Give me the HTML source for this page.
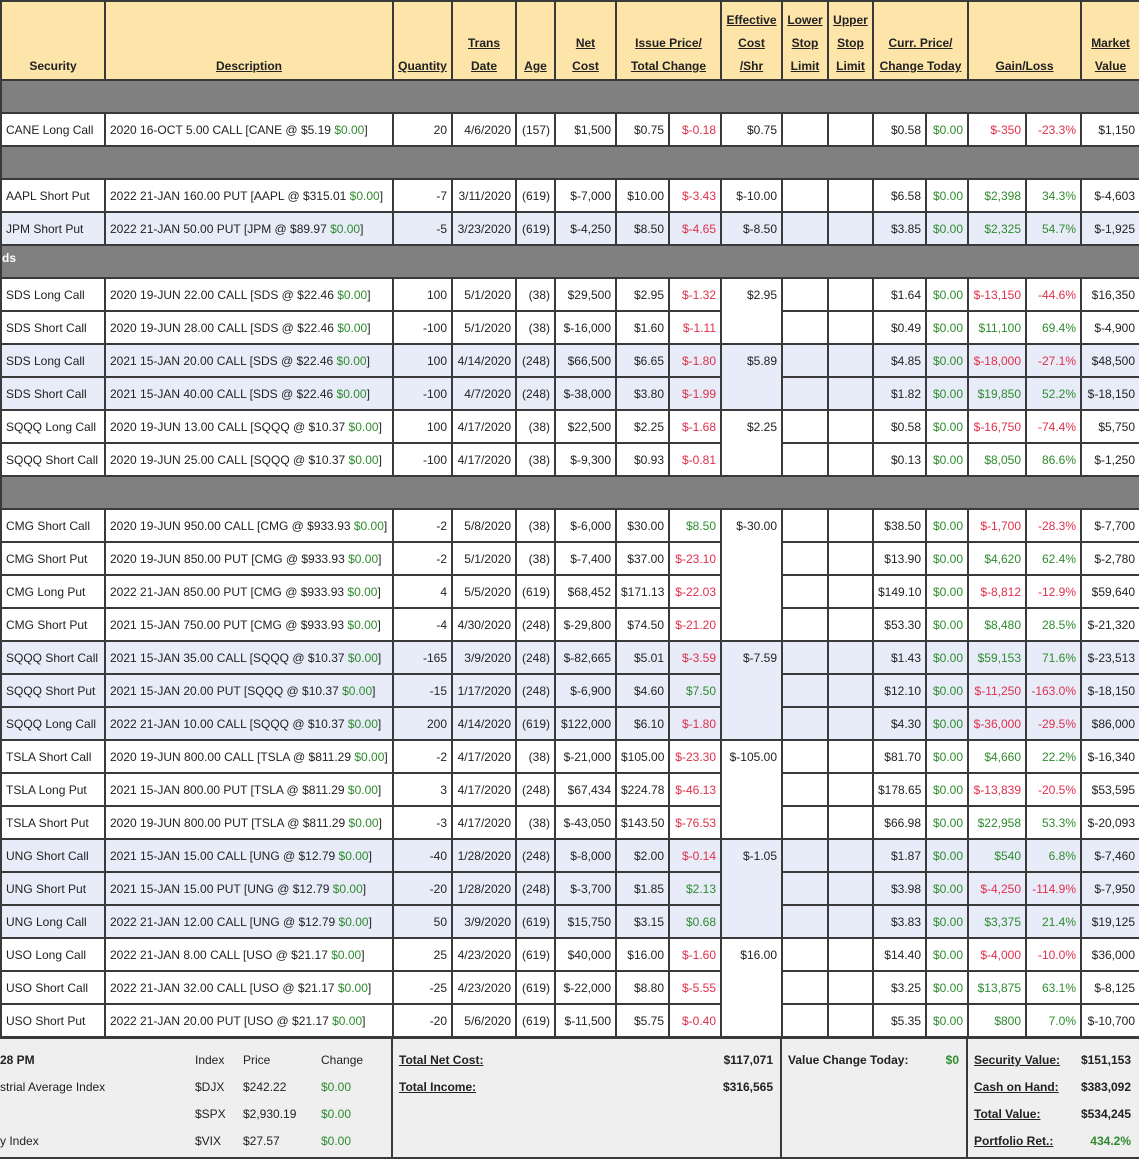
<!DOCTYPE html>
<html><head><meta charset="utf-8"><style>
body{margin:0;background:#fff;font-family:"Liberation Sans",Arial,sans-serif;font-size:12px;color:#222;}
table{border-collapse:collapse;table-layout:fixed;width:1139px;position:absolute;left:0;top:0;}
td{border:2px solid #3a3a3a;padding:0 4px;height:31px;white-space:nowrap;overflow:hidden;text-align:right;vertical-align:middle;}
tr.h td{background:#fde4a9;font-weight:bold;text-align:center;vertical-align:bottom;line-height:23px;height:76px;padding:0 2px 1px;}
tr.h td u{text-decoration:underline;}
tr.s td{background:#808080;height:31px;}
tr.b td{background:#e8ecf9;}
td.l{text-align:left;}
td.e{vertical-align:top;padding-top:9px;background:#fff;}
td.eb{vertical-align:top;padding-top:9px;background:#e8ecf9;}
.r{color:#e0304a;}.g{color:#2e8b2e;}
#bot{position:absolute;left:0;top:1037px;width:1139px;height:118px;background:#efefef;border-top:2px solid #3a3a3a;border-bottom:2px solid #3a3a3a;}
#bot div{position:absolute;white-space:nowrap;}
.vl{width:2px;height:118px;background:#3a3a3a;top:0;}
.bb{font-weight:bold;}
</style></head><body>
<table>
<colgroup><col style="width:104px"><col style="width:288px"><col style="width:59px"><col style="width:64px"><col style="width:39px"><col style="width:61px"><col style="width:53px"><col style="width:52px"><col style="width:61px"><col style="width:46px"><col style="width:45px"><col style="width:53px"><col style="width:42px"><col style="width:58px"><col style="width:55px"><col style="width:59px"></colgroup>
<tr class="h"><td>Security</td><td><u>Description</u></td><td><u>Quantity</u></td><td><u>Trans<br>Date</u></td><td><u>Age</u></td><td><u>Net<br>Cost</u></td><td colspan="2"><u>Issue Price/<br>Total Change</u></td><td><u>Effective<br>Cost<br>/Shr</u></td><td><u>Lower<br>Stop<br>Limit</u></td><td><u>Upper<br>Stop<br>Limit</u></td><td colspan="2"><u>Curr. Price/<br>Change Today</u></td><td colspan="2"><u>Gain/Loss</u></td><td><u>Market<br>Value</u></td></tr>
<tr class="s"><td colspan="16"></td></tr>
<tr><td class="l">CANE Long Call</td><td class="l">2020 16-OCT 5.00 CALL [CANE @ $5.19 <span class="g">$0.00</span>]</td><td>20</td><td>4/6/2020</td><td>(157)</td><td>$1,500</td><td>$0.75</td><td class="r">$-0.18</td><td>$0.75</td><td></td><td></td><td>$0.58</td><td class="g">$0.00</td><td class="r">$-350</td><td class="r">-23.3%</td><td>$1,150</td></tr>
<tr class="s"><td colspan="16"></td></tr>
<tr><td class="l">AAPL Short Put</td><td class="l">2022 21-JAN 160.00 PUT [AAPL @ $315.01 <span class="g">$0.00</span>]</td><td>-7</td><td>3/11/2020</td><td>(619)</td><td>$-7,000</td><td>$10.00</td><td class="r">$-3.43</td><td>$-10.00</td><td></td><td></td><td>$6.58</td><td class="g">$0.00</td><td class="g">$2,398</td><td class="g">34.3%</td><td>$-4,603</td></tr>
<tr class="b"><td class="l">JPM Short Put</td><td class="l">2022 21-JAN 50.00 PUT [JPM @ $89.97 <span class="g">$0.00</span>]</td><td>-5</td><td>3/23/2020</td><td>(619)</td><td>$-4,250</td><td>$8.50</td><td class="r">$-4.65</td><td>$-8.50</td><td></td><td></td><td>$3.85</td><td class="g">$0.00</td><td class="g">$2,325</td><td class="g">54.7%</td><td>$-1,925</td></tr>
<tr class="s"><td colspan="16" class="l" style="vertical-align:top;padding:0;line-height:14px;color:#fff;font-weight:bold;"><div style="height:31px;padding-top:5px;box-sizing:border-box">ds</div></td></tr>
<tr><td class="l">SDS Long Call</td><td class="l">2020 19-JUN 22.00 CALL [SDS @ $22.46 <span class="g">$0.00</span>]</td><td>100</td><td>5/1/2020</td><td>(38)</td><td>$29,500</td><td>$2.95</td><td class="r">$-1.32</td><td rowspan="2" class="e">$2.95</td><td></td><td></td><td>$1.64</td><td class="g">$0.00</td><td class="r">$-13,150</td><td class="r">-44.6%</td><td>$16,350</td></tr>
<tr><td class="l">SDS Short Call</td><td class="l">2020 19-JUN 28.00 CALL [SDS @ $22.46 <span class="g">$0.00</span>]</td><td>-100</td><td>5/1/2020</td><td>(38)</td><td>$-16,000</td><td>$1.60</td><td class="r">$-1.11</td><td></td><td></td><td>$0.49</td><td class="g">$0.00</td><td class="g">$11,100</td><td class="g">69.4%</td><td>$-4,900</td></tr>
<tr class="b"><td class="l">SDS Long Call</td><td class="l">2021 15-JAN 20.00 CALL [SDS @ $22.46 <span class="g">$0.00</span>]</td><td>100</td><td>4/14/2020</td><td>(248)</td><td>$66,500</td><td>$6.65</td><td class="r">$-1.80</td><td rowspan="2" class="eb">$5.89</td><td></td><td></td><td>$4.85</td><td class="g">$0.00</td><td class="r">$-18,000</td><td class="r">-27.1%</td><td>$48,500</td></tr>
<tr class="b"><td class="l">SDS Short Call</td><td class="l">2021 15-JAN 40.00 CALL [SDS @ $22.46 <span class="g">$0.00</span>]</td><td>-100</td><td>4/7/2020</td><td>(248)</td><td>$-38,000</td><td>$3.80</td><td class="r">$-1.99</td><td></td><td></td><td>$1.82</td><td class="g">$0.00</td><td class="g">$19,850</td><td class="g">52.2%</td><td>$-18,150</td></tr>
<tr><td class="l">SQQQ Long Call</td><td class="l">2020 19-JUN 13.00 CALL [SQQQ @ $10.37 <span class="g">$0.00</span>]</td><td>100</td><td>4/17/2020</td><td>(38)</td><td>$22,500</td><td>$2.25</td><td class="r">$-1.68</td><td rowspan="2" class="e">$2.25</td><td></td><td></td><td>$0.58</td><td class="g">$0.00</td><td class="r">$-16,750</td><td class="r">-74.4%</td><td>$5,750</td></tr>
<tr><td class="l">SQQQ Short Call</td><td class="l">2020 19-JUN 25.00 CALL [SQQQ @ $10.37 <span class="g">$0.00</span>]</td><td>-100</td><td>4/17/2020</td><td>(38)</td><td>$-9,300</td><td>$0.93</td><td class="r">$-0.81</td><td></td><td></td><td>$0.13</td><td class="g">$0.00</td><td class="g">$8,050</td><td class="g">86.6%</td><td>$-1,250</td></tr>
<tr class="s"><td colspan="16"></td></tr>
<tr><td class="l">CMG Short Call</td><td class="l">2020 19-JUN 950.00 CALL [CMG @ $933.93 <span class="g">$0.00</span>]</td><td>-2</td><td>5/8/2020</td><td>(38)</td><td>$-6,000</td><td>$30.00</td><td class="g">$8.50</td><td rowspan="4" class="e">$-30.00</td><td></td><td></td><td>$38.50</td><td class="g">$0.00</td><td class="r">$-1,700</td><td class="r">-28.3%</td><td>$-7,700</td></tr>
<tr><td class="l">CMG Short Put</td><td class="l">2020 19-JUN 850.00 PUT [CMG @ $933.93 <span class="g">$0.00</span>]</td><td>-2</td><td>5/1/2020</td><td>(38)</td><td>$-7,400</td><td>$37.00</td><td class="r">$-23.10</td><td></td><td></td><td>$13.90</td><td class="g">$0.00</td><td class="g">$4,620</td><td class="g">62.4%</td><td>$-2,780</td></tr>
<tr><td class="l">CMG Long Put</td><td class="l">2022 21-JAN 850.00 PUT [CMG @ $933.93 <span class="g">$0.00</span>]</td><td>4</td><td>5/5/2020</td><td>(619)</td><td>$68,452</td><td>$171.13</td><td class="r">$-22.03</td><td></td><td></td><td>$149.10</td><td class="g">$0.00</td><td class="r">$-8,812</td><td class="r">-12.9%</td><td>$59,640</td></tr>
<tr><td class="l">CMG Short Put</td><td class="l">2021 15-JAN 750.00 PUT [CMG @ $933.93 <span class="g">$0.00</span>]</td><td>-4</td><td>4/30/2020</td><td>(248)</td><td>$-29,800</td><td>$74.50</td><td class="r">$-21.20</td><td></td><td></td><td>$53.30</td><td class="g">$0.00</td><td class="g">$8,480</td><td class="g">28.5%</td><td>$-21,320</td></tr>
<tr class="b"><td class="l">SQQQ Short Call</td><td class="l">2021 15-JAN 35.00 CALL [SQQQ @ $10.37 <span class="g">$0.00</span>]</td><td>-165</td><td>3/9/2020</td><td>(248)</td><td>$-82,665</td><td>$5.01</td><td class="r">$-3.59</td><td rowspan="3" class="eb">$-7.59</td><td></td><td></td><td>$1.43</td><td class="g">$0.00</td><td class="g">$59,153</td><td class="g">71.6%</td><td>$-23,513</td></tr>
<tr class="b"><td class="l">SQQQ Short Put</td><td class="l">2021 15-JAN 20.00 PUT [SQQQ @ $10.37 <span class="g">$0.00</span>]</td><td>-15</td><td>1/17/2020</td><td>(248)</td><td>$-6,900</td><td>$4.60</td><td class="g">$7.50</td><td></td><td></td><td>$12.10</td><td class="g">$0.00</td><td class="r">$-11,250</td><td class="r">-163.0%</td><td>$-18,150</td></tr>
<tr class="b"><td class="l">SQQQ Long Call</td><td class="l">2022 21-JAN 10.00 CALL [SQQQ @ $10.37 <span class="g">$0.00</span>]</td><td>200</td><td>4/14/2020</td><td>(619)</td><td>$122,000</td><td>$6.10</td><td class="r">$-1.80</td><td></td><td></td><td>$4.30</td><td class="g">$0.00</td><td class="r">$-36,000</td><td class="r">-29.5%</td><td>$86,000</td></tr>
<tr><td class="l">TSLA Short Call</td><td class="l">2020 19-JUN 800.00 CALL [TSLA @ $811.29 <span class="g">$0.00</span>]</td><td>-2</td><td>4/17/2020</td><td>(38)</td><td>$-21,000</td><td>$105.00</td><td class="r">$-23.30</td><td rowspan="3" class="e">$-105.00</td><td></td><td></td><td>$81.70</td><td class="g">$0.00</td><td class="g">$4,660</td><td class="g">22.2%</td><td>$-16,340</td></tr>
<tr><td class="l">TSLA Long Put</td><td class="l">2021 15-JAN 800.00 PUT [TSLA @ $811.29 <span class="g">$0.00</span>]</td><td>3</td><td>4/17/2020</td><td>(248)</td><td>$67,434</td><td>$224.78</td><td class="r">$-46.13</td><td></td><td></td><td>$178.65</td><td class="g">$0.00</td><td class="r">$-13,839</td><td class="r">-20.5%</td><td>$53,595</td></tr>
<tr><td class="l">TSLA Short Put</td><td class="l">2020 19-JUN 800.00 PUT [TSLA @ $811.29 <span class="g">$0.00</span>]</td><td>-3</td><td>4/17/2020</td><td>(38)</td><td>$-43,050</td><td>$143.50</td><td class="r">$-76.53</td><td></td><td></td><td>$66.98</td><td class="g">$0.00</td><td class="g">$22,958</td><td class="g">53.3%</td><td>$-20,093</td></tr>
<tr class="b"><td class="l">UNG Short Call</td><td class="l">2021 15-JAN 15.00 CALL [UNG @ $12.79 <span class="g">$0.00</span>]</td><td>-40</td><td>1/28/2020</td><td>(248)</td><td>$-8,000</td><td>$2.00</td><td class="r">$-0.14</td><td rowspan="3" class="eb">$-1.05</td><td></td><td></td><td>$1.87</td><td class="g">$0.00</td><td class="g">$540</td><td class="g">6.8%</td><td>$-7,460</td></tr>
<tr class="b"><td class="l">UNG Short Put</td><td class="l">2021 15-JAN 15.00 PUT [UNG @ $12.79 <span class="g">$0.00</span>]</td><td>-20</td><td>1/28/2020</td><td>(248)</td><td>$-3,700</td><td>$1.85</td><td class="g">$2.13</td><td></td><td></td><td>$3.98</td><td class="g">$0.00</td><td class="r">$-4,250</td><td class="r">-114.9%</td><td>$-7,950</td></tr>
<tr class="b"><td class="l">UNG Long Call</td><td class="l">2022 21-JAN 12.00 CALL [UNG @ $12.79 <span class="g">$0.00</span>]</td><td>50</td><td>3/9/2020</td><td>(619)</td><td>$15,750</td><td>$3.15</td><td class="g">$0.68</td><td></td><td></td><td>$3.83</td><td class="g">$0.00</td><td class="g">$3,375</td><td class="g">21.4%</td><td>$19,125</td></tr>
<tr><td class="l">USO Long Call</td><td class="l">2022 21-JAN 8.00 CALL [USO @ $21.17 <span class="g">$0.00</span>]</td><td>25</td><td>4/23/2020</td><td>(619)</td><td>$40,000</td><td>$16.00</td><td class="r">$-1.60</td><td rowspan="3" class="e">$16.00</td><td></td><td></td><td>$14.40</td><td class="g">$0.00</td><td class="r">$-4,000</td><td class="r">-10.0%</td><td>$36,000</td></tr>
<tr><td class="l">USO Short Call</td><td class="l">2022 21-JAN 32.00 CALL [USO @ $21.17 <span class="g">$0.00</span>]</td><td>-25</td><td>4/23/2020</td><td>(619)</td><td>$-22,000</td><td>$8.80</td><td class="r">$-5.55</td><td></td><td></td><td>$3.25</td><td class="g">$0.00</td><td class="g">$13,875</td><td class="g">63.1%</td><td>$-8,125</td></tr>
<tr><td class="l">USO Short Put</td><td class="l">2022 21-JAN 20.00 PUT [USO @ $21.17 <span class="g">$0.00</span>]</td><td>-20</td><td>5/6/2020</td><td>(619)</td><td>$-11,500</td><td>$5.75</td><td class="r">$-0.40</td><td></td><td></td><td>$5.35</td><td class="g">$0.00</td><td class="g">$800</td><td class="g">7.0%</td><td>$-10,700</td></tr>
</table>
<div id="bot">
<div class="vl" style="left:391px"></div><div class="vl" style="left:780px"></div><div class="vl" style="left:966px"></div>
<div class="bb" style="left:0;top:14px">28 PM</div>
<div style="left:195px;top:14px">Index</div><div style="left:243px;top:14px">Price</div><div style="left:321px;top:14px">Change</div>
<div style="left:0;top:41px">strial Average Index</div><div style="left:195px;top:41px">$DJX</div><div style="left:243px;top:41px">$242.22</div><div class="g" style="left:321px;top:41px">$0.00</div>
<div style="left:195px;top:68px">$SPX</div><div style="left:243px;top:68px">$2,930.19</div><div class="g" style="left:321px;top:68px">$0.00</div>
<div style="left:0;top:95px">y Index</div><div style="left:195px;top:95px">$VIX</div><div style="left:243px;top:95px">$27.57</div><div class="g" style="left:321px;top:95px">$0.00</div>
<div class="bb" style="left:399px;top:14px;text-decoration:underline">Total Net Cost:</div><div class="bb" style="right:366px;top:14px">$117,071</div>
<div class="bb" style="left:399px;top:41px;text-decoration:underline">Total Income:</div><div class="bb" style="right:366px;top:41px">$316,565</div>
<div class="bb" style="left:788px;top:14px">Value Change Today:</div><div class="bb g" style="right:180px;top:14px">$0</div>
<div class="bb" style="left:974px;top:14px;text-decoration:underline">Security Value:</div><div class="bb" style="right:8px;top:14px">$151,153</div>
<div class="bb" style="left:974px;top:41px;text-decoration:underline">Cash on Hand:</div><div class="bb" style="right:8px;top:41px">$383,092</div>
<div class="bb" style="left:974px;top:68px;text-decoration:underline">Total Value:</div><div class="bb" style="right:8px;top:68px">$534,245</div>
<div class="bb" style="left:974px;top:95px;text-decoration:underline">Portfolio Ret.:</div><div class="bb g" style="right:8px;top:95px">434.2%</div>
</div>
</body></html>
